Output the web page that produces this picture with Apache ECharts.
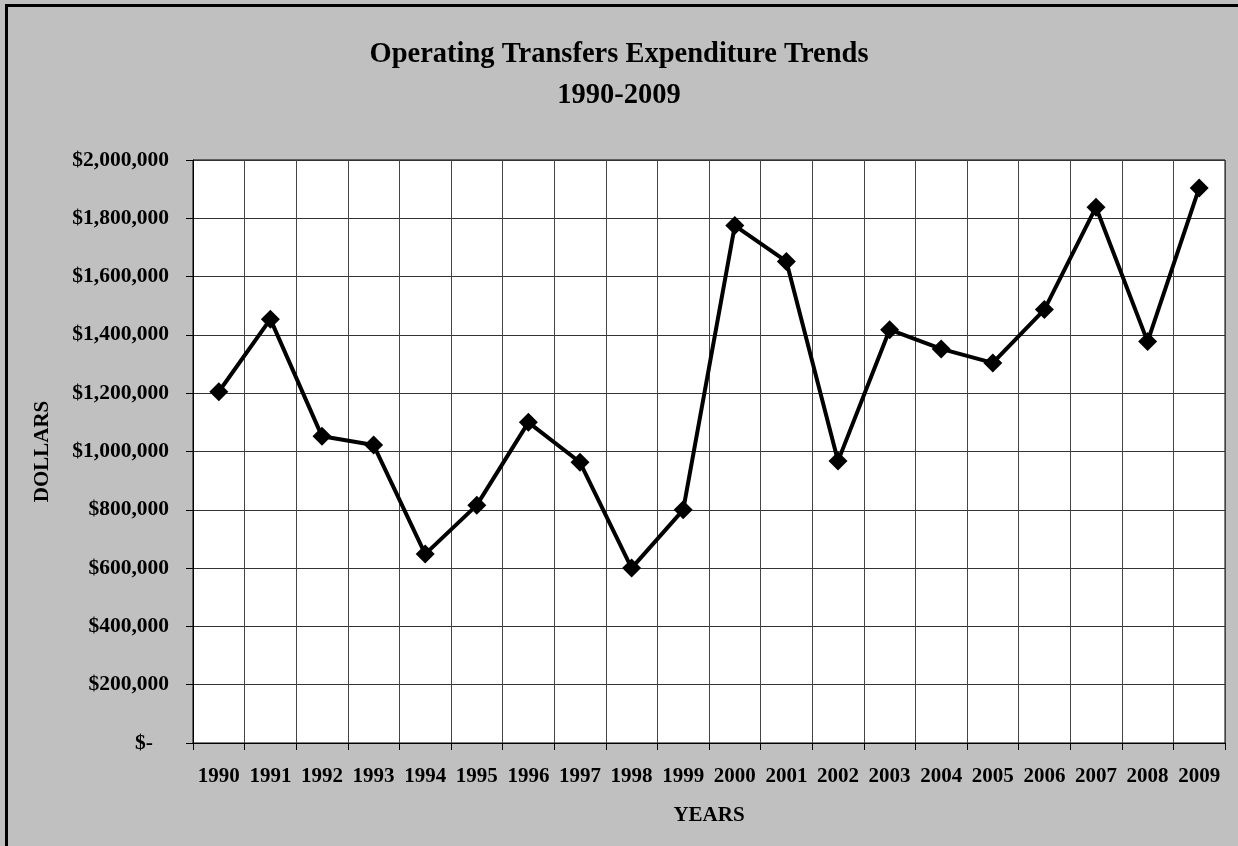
<!DOCTYPE html>
<html>
<head>
<meta charset="utf-8">
<script src="https://cdn.jsdelivr.net/npm/echarts@6/dist/echarts.min.js"></script>
<style>
  html, body {margin: 0; padding: 0; background: #c0c0c0;}
  #chart {width: 1238px; height: 846px;}
</style>
</head>
<body>
<div id="chart"></div>
<script>
var years = ['1990', '1991', '1992', '1993', '1994', '1995', '1996', '1997', '1998', '1999',
             '2000', '2001', '2002', '2003', '2004', '2005', '2006', '2007', '2008', '2009'];
var transfers = [1205000, 1454000, 1052000, 1022000, 648000, 816000, 1100000, 963000, 600000, 800000,
                 1775000, 1652000, 967000, 1418000, 1352000, 1304000, 1487000, 1838000, 1377000, 1904000];
var title_lines = ['Operating Transfers Expenditure Trends', '1990-2009'];

var font = "'Liberation Serif', 'Times New Roman', serif";

function dollars(v) {
    if (v === 0) return '$-   ';
    return '$' + v.toLocaleString('en-US');
}

var chart_el = document.getElementById('chart');
var chart = echarts.init(chart_el);
chart.setOption({
    backgroundColor: '#c0c0c0',
    animation: false,
    textStyle: {fontFamily: font, fontWeight: 'bold', color: '#000'},
    title: {
        text: title_lines.join('\n'),
        left: 'center',
        top: 29,
        textStyle: {fontFamily: font, fontWeight: 'bold', fontSize: 28.5, lineHeight: 41, color: '#000'}
    },
    graphic: [{
        type: 'rect',
        shape: {x: 6.5, y: 5.5, width: 1300, height: 900},
        style: {fill: null, stroke: '#000', lineWidth: 3}
    }],
    grid: {
        left: 193, right: 13, top: 160, bottom: 103,
        show: true, backgroundColor: '#fff', borderColor: '#000', borderWidth: 1
    },
    xAxis: {
        type: 'category',
        data: years,
        boundaryGap: true,
        name: 'YEARS',
        nameLocation: 'middle',
        nameGap: 62,
        nameTextStyle: {fontFamily: font, fontWeight: 'bold', fontSize: 21, color: '#000'},
        axisLine: {lineStyle: {color: '#000', width: 1}},
        axisTick: {show: true, length: 7, interval: 0, lineStyle: {color: '#000'}},
        axisLabel: {interval: 0, margin: 23, fontFamily: font, fontWeight: 'bold', fontSize: 21, color: '#000'},
        splitLine: {show: true, interval: 0, lineStyle: {color: '#444', width: 1}}
    },
    yAxis: {
        type: 'value',
        min: 0,
        max: 2000000,
        interval: 200000,
        name: 'DOLLARS',
        nameLocation: 'middle',
        nameGap: 140,
        nameTextStyle: {fontFamily: font, fontWeight: 'bold', fontSize: 21, color: '#000'},
        axisLine: {show: true, lineStyle: {color: '#000', width: 1}},
        axisTick: {show: true, length: 7, lineStyle: {color: '#000'}},
        axisLabel: {margin: 24, formatter: dollars, fontFamily: font, fontWeight: 'bold', fontSize: 21.5, color: '#000'},
        splitLine: {show: true, lineStyle: {color: '#333', width: 1}}
    },
    series: [{
        type: 'line',
        data: transfers,
        symbol: 'diamond',
        symbolSize: 19,
        showAllSymbol: true,
        lineStyle: {color: '#000', width: 4},
        itemStyle: {color: '#000'}
    }]
});
</script>
</body>
</html>
